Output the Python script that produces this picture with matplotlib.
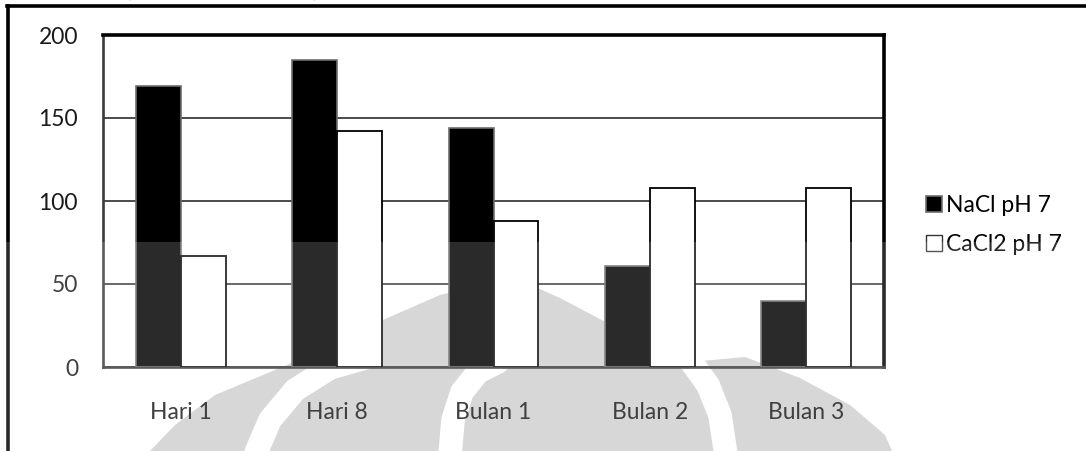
import numpy as np
import matplotlib
matplotlib.use("Agg")
import matplotlib.pyplot as plt
from matplotlib.lines import Line2D
from matplotlib.patches import Polygon, Rectangle

plt.rcParams['font.family'] = ['Lato', 'DejaVu Sans']

# data
kategori = ['Hari 1', 'Hari 8', 'Bulan 1', 'Bulan 2', 'Bulan 3']
nacl = [169, 185, 144, 61, 40]
cacl2 = [67, 142, 88, 108, 108]
label_seri = ['NaCl pH 7', 'CaCl2 pH 7']
yticks = [0, 50, 100, 150, 200]

W, H = 1086, 451
fig = plt.figure(figsize=(W / 100, H / 100), dpi=100, facecolor='white')


def px(x, y):
    # pixel (from top-left) -> figure fraction
    return x / W, 1 - y / H


# faint logo in the background
logo = '#cfcfcf'
dome = [(150, 451), (175, 425), (215, 395), (287, 365), (360, 330), (440, 295),
        (513, 277), (560, 298), (630, 335), (690, 362), (745, 357),
        (800, 378), (850, 405), (885, 435), (892, 451)]
fig.patches.append(Polygon([px(*p) for p in dome], closed=True, transform=fig.transFigure,
                           facecolor=logo, edgecolor='none', zorder=-2))
for arc in ([(255, 455), (270, 420), (295, 390), (330, 368), (365, 358)],
            [(450, 455), (453, 420), (462, 392), (478, 372), (498, 362)],
            [(690, 360), (708, 385), (720, 415), (726, 455)]):
    xs, ys = zip(*[px(*p) for p in arc])
    fig.lines.append(Line2D(xs, ys, transform=fig.transFigure, color='white',
                            lw=17, solid_capstyle='round', zorder=-1))

ax = fig.add_axes([103 / W, 84 / H, 781 / W, 332 / H], zorder=1)
ax.patch.set_visible(False)

x = np.arange(len(kategori))
w = 0.288
ax.bar(x - w / 2, nacl, w, color='black', edgecolor='#6e6e6e', linewidth=1.2, zorder=3, label=label_seri[0])
ax.bar(x + w / 2, cacl2, w, color='white', edgecolor='black', linewidth=1.3, zorder=3, label=label_seri[1])

ax.set_xlim(-0.5, 4.5)
ax.set_ylim(0, 200)
ax.set_yticks(yticks)
ax.set_xticks(x)
ax.set_xticklabels(kategori)
ax.tick_params(axis='both', length=0, labelsize=16.5, colors='#1a1a1a')
ax.tick_params(axis='y', pad=18)
ax.tick_params(axis='x', pad=25)
ax.yaxis.grid(True, color='#1a1a1a', linewidth=1.1, zorder=1)
ax.set_axisbelow(True)

for s in ['top', 'right']:
    ax.spines[s].set_linewidth(2.6)
    ax.spines[s].set_color('black')
for s in ['left', 'bottom']:
    ax.spines[s].set_linewidth(1.9)
    ax.spines[s].set_color('#3a3a3a')

handles = [Line2D([], [], marker='s', ls='none', markersize=11, markerfacecolor='black',
                  markeredgecolor='#6e6e6e', markeredgewidth=1.2),
           Line2D([], [], marker='s', ls='none', markersize=11, markerfacecolor='white',
                  markeredgecolor='#333333', markeredgewidth=1.0)]
fig.legend(handles, label_seri, loc='center left', bbox_to_anchor=px(913, 225),
           frameon=False, fontsize=16.5, handlelength=0.8, handletextpad=0.15,
           labelspacing=0.8, borderpad=0)

# chart frame
fig.lines.append(Line2D([7 / W, 1], [1 - 6 / H] * 2, transform=fig.transFigure, color='black', lw=2.6))
fig.lines.append(Line2D([8 / W] * 2, [0, 1 - 6 / H], transform=fig.transFigure, color='black', lw=2.6))

# caption line running off the top
fig.text(15 / W, 1 + 3 / H, 'Kekerasan (rata-rata \u00b1 deviasi)', fontsize=16.5,
         va='baseline', color='#1a1a1a')

# lighter lower band
fig.patches.append(Rectangle(px(0, 451), 1, 209 / H, transform=fig.transFigure,
                             facecolor='white', alpha=0.17, edgecolor='none', zorder=10))

fig.savefig('out.png', dpi=100)
